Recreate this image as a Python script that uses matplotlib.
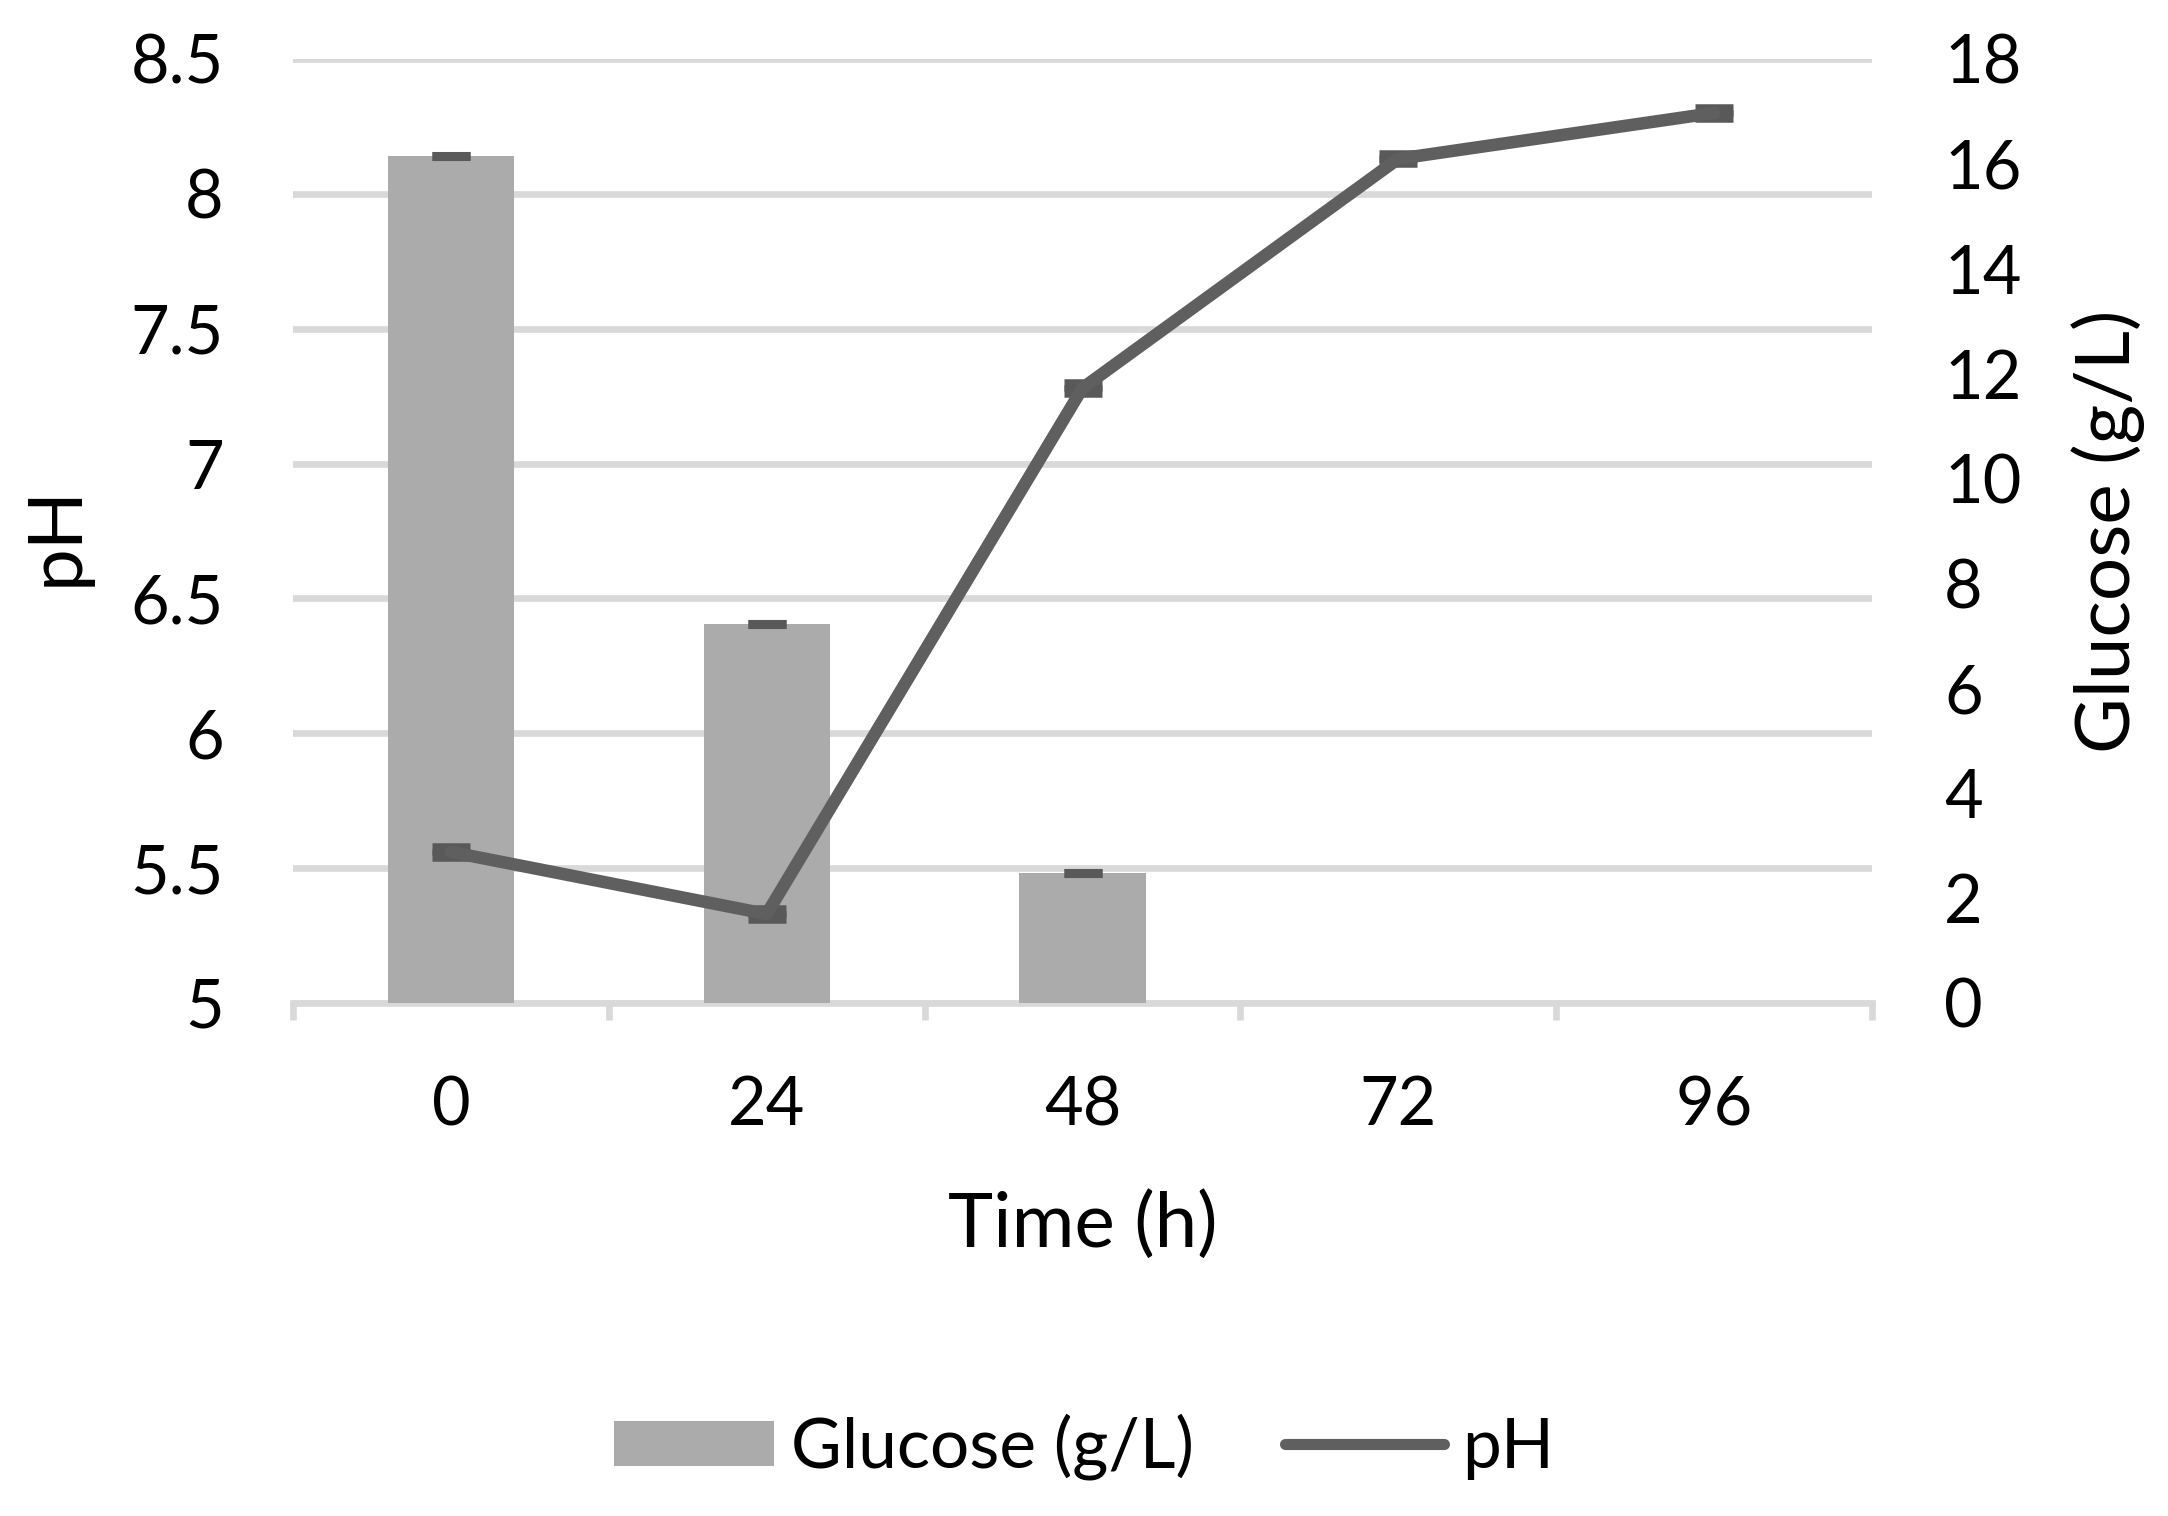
import matplotlib
matplotlib.use("Agg")
import matplotlib.pyplot as plt
import numpy as np
from matplotlib.patches import Patch
from matplotlib.lines import Line2D

# ---- data ----
time_labels = ["0", "24", "48", "72", "96"]
glucose = [16.15, 7.22, 2.48, 0.0, 0.0]
glucose_err = [0.0, 0.0, 0.0, 0.0, 0.0]
ph = [5.56, 5.33, 7.28, 8.13, 8.30]
ph_err = [0.01, 0.01, 0.01, 0.01, 0.01]
ph_ticks = [5, 5.5, 6, 6.5, 7, 7.5, 8, 8.5]
ph_tick_labels = ["5", "5.5", "6", "6.5", "7", "7.5", "8", "8.5"]
glu_ticks = [0, 2, 4, 6, 8, 10, 12, 14, 16, 18]

plt.rcParams['font.family'] = ['Lato', 'DejaVu Sans']

BAR = "#ababab"
LINE = "#5f5f5f"
CAP = "#595959"
GRID = "#d9d9d9"

W, H = 2168, 1516
DPI = 100
fig = plt.figure(figsize=(W / DPI, H / DPI), dpi=DPI)
L, R, T, B = 293, 1872, 59, 1003
ax = fig.add_axes([L / W, 1 - B / H, (R - L) / W, (B - T) / H])

x = np.arange(len(time_labels))

# background axes: grid + x axis + left ticks
ax.set_ylim(5, 8.5)
ax.set_xlim(-0.5, len(x) - 0.5)
ax.set_yticks(ph_ticks)
ax.set_yticklabels(ph_tick_labels)
ax.yaxis.grid(True, color=GRID, linewidth=4.8)
ax.set_axisbelow(True)
for s in ["top", "left", "right"]:
    ax.spines[s].set_visible(False)
ax.spines["bottom"].set_color(GRID)
ax.spines["bottom"].set_linewidth(4.8)
ax.set_xticks(x)
ax.set_xticklabels(time_labels)
ax.set_xticks(np.arange(-0.5, len(x), 1.0), minor=True)
ax.tick_params(axis="x", which="major", length=0, pad=52, labelsize=48)
ax.tick_params(axis="x", which="minor", length=12, width=4.8, color=GRID, direction="out")
ax.tick_params(axis="y", length=0, pad=50, labelsize=48)

# glucose bars (right axis)
axg = ax.twinx()
axg.set_ylim(0, 18)
axg.set_yticks(glu_ticks)
axg.tick_params(axis="y", length=0, pad=52, labelsize=48)
for s in axg.spines.values():
    s.set_visible(False)
axg.bar(x, glucose, width=0.4, color=BAR, zorder=2)
gm = np.array(glucose) > 0
axg.errorbar(x[gm], np.array(glucose)[gm], yerr=np.array(glucose_err)[gm], fmt="none",
             ecolor=CAP, capsize=14, capthick=6.5, elinewidth=1, zorder=3)

# pH line
axp = ax.twinx()
axp.set_ylim(5, 8.5)
axp.set_yticks([])
for s in axp.spines.values():
    s.set_visible(False)
axp.errorbar(x, ph, yerr=ph_err, fmt="none", ecolor=CAP, capsize=14, capthick=9,
             elinewidth=1, zorder=2)
axp.plot(x, ph, color=LINE, linewidth=9, solid_capstyle="round",
         solid_joinstyle="round", zorder=3)

# labels
fig.text(56 / W, 1 - 535 / H, "pH", rotation=90, ha="center", va="center", fontsize=55)
fig.text(2108 / W, 1 - 531 / H, "Glucose (g/L)", rotation=90, ha="center", va="center",
         fontsize=55)
fig.text((L + R) / 2 / W, 1 - 1225 / H, "Time (h)", ha="center", va="center", fontsize=55)

handles = [Patch(facecolor=BAR, edgecolor="none"),
           Line2D([0], [0], color=LINE, linewidth=8, solid_capstyle="round")]
fig.legend(handles, ["Glucose (g/L)", "pH"], loc="center", bbox_to_anchor=(0.5, 1 - 1447 / H),
           ncol=2, frameon=False, fontsize=50, handlelength=2.3, handleheight=0.64,
           handletextpad=0.25, columnspacing=1.3)

fig.savefig("out.png", dpi=DPI, facecolor="white")
